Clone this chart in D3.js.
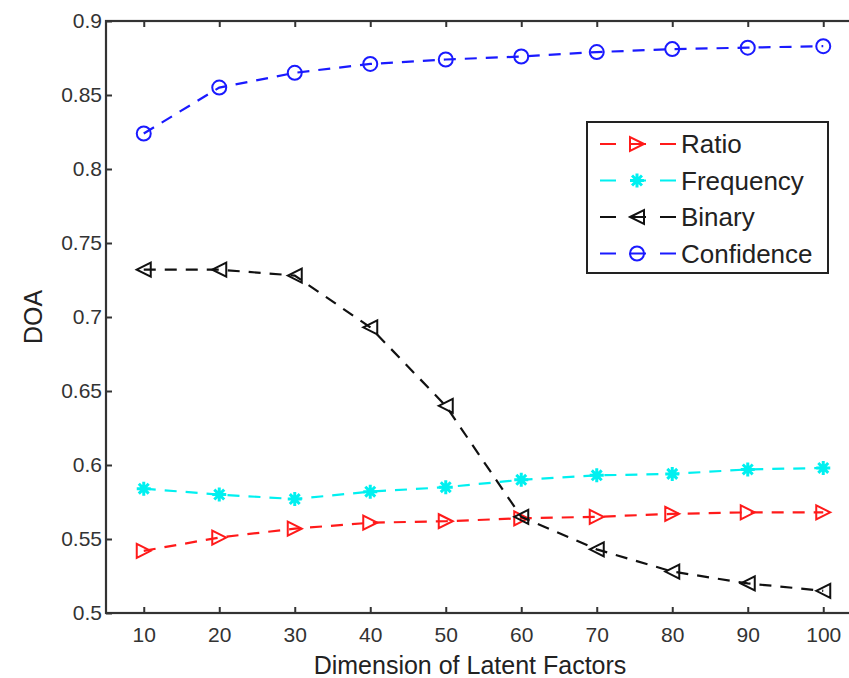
<!DOCTYPE html>
<html><head><meta charset="utf-8">
<script src="https://cdn.jsdelivr.net/npm/d3@7"></script>
<style>body{margin:0;background:#fff}svg{display:block}</style>
</head><body>
<svg id="c" width="849" height="678"></svg>
<script>
const dims = [10,20,30,40,50,60,70,80,90,100];
const ratio = [0.542,0.551,0.557,0.561,0.562,0.564,0.565,0.567,0.568,0.568];
const frequency = [0.584,0.580,0.577,0.582,0.585,0.590,0.593,0.594,0.597,0.598];
const binary = [0.732,0.732,0.728,0.693,0.640,0.565,0.543,0.528,0.520,0.515];
const confidence = [0.824,0.855,0.865,0.871,0.874,0.876,0.879,0.881,0.882,0.883];
const yTicks = [0.5,0.55,0.6,0.65,0.7,0.75,0.8,0.85,0.9];
const seriesNames = ["Ratio","Frequency","Binary","Confidence"];
const seriesColors = ["#ff1a1a","#00f0f0","#111111","#1a1aff"];
const seriesMarkers = ["triRight","star","triLeft","circle"];
const seriesData = [ratio,frequency,binary,confidence];

const svg = d3.select("#c");
const L=106, R=861, T=21, B=613;
const x = d3.scaleLinear().domain([5,105]).range([L,R]);
const y = d3.scaleLinear().domain([0.5,0.9]).range([B,T]);
const font = "Liberation Sans, Arial, sans-serif";
const axisCol = "#333";

// frame
svg.append("rect").attr("x",L).attr("y",T).attr("width",R-L).attr("height",B-T)
  .attr("fill","none").attr("stroke",axisCol).attr("stroke-width",2.2);

// axes with inward ticks
const gx = svg.append("g").attr("transform",`translate(0,${B})`)
  .call(d3.axisBottom(x).tickValues(dims).tickSize(-6).tickPadding(14).tickFormat(d3.format("d")));
const gxt = svg.append("g").attr("transform",`translate(0,${T})`)
  .call(d3.axisTop(x).tickValues(dims).tickSize(-6).tickFormat(""));
const gy = svg.append("g").attr("transform",`translate(${L},0)`)
  .call(d3.axisLeft(y).tickValues(yTicks).tickSize(-6).tickPadding(4).tickFormat(d=>d3.format("")(+d.toFixed(2))));
[gx,gxt,gy].forEach(g=>{
  g.select(".domain").remove();
  g.selectAll(".tick line").attr("stroke",axisCol).attr("stroke-width",2);
  g.selectAll("text").attr("font-family",font).attr("font-size",21).attr("fill","#333");
});

// labels
svg.append("text").attr("x",470).attr("y",674).attr("text-anchor","middle")
  .attr("font-family",font).attr("font-size",25).attr("fill","#222").text("Dimension of Latent Factors");
svg.append("text").attr("transform",`translate(42,${(T+B)/2}) rotate(-90)`).attr("text-anchor","middle")
  .attr("font-family",font).attr("font-size",25).attr("fill","#222").text("DOA");

function marker(g,type,cx,cy,col){
  const s=7;
  if(type==="circle"){
    g.append("circle").attr("cx",cx).attr("cy",cy).attr("r",s).attr("fill","none").attr("stroke",col).attr("stroke-width",2);
  } else if(type==="triRight"){
    g.append("path").attr("d",`M${cx+s},${cy} L${cx-s},${cy-s} L${cx-s},${cy+s} Z`).attr("fill","none").attr("stroke",col).attr("stroke-width",2);
  } else if(type==="triLeft"){
    g.append("path").attr("d",`M${cx-s},${cy} L${cx+s},${cy-s} L${cx+s},${cy+s} Z`).attr("fill","none").attr("stroke",col).attr("stroke-width",2);
  } else {
    const p=[];
    for(let i=0;i<4;i++){const a=i*Math.PI/4;p.push(`M${cx-s*Math.cos(a)},${cy-s*Math.sin(a)} L${cx+s*Math.cos(a)},${cy+s*Math.sin(a)}`);}
    g.append("path").attr("d",p.join(" ")).attr("fill","none").attr("stroke",col).attr("stroke-width",3);
  }
}

const line = d3.line().x((d,i)=>x(dims[i])).y(d=>y(d));
seriesData.forEach((vals,k)=>{
  const g = svg.append("g");
  g.append("path").datum(vals).attr("d",line).attr("fill","none")
    .attr("stroke",seriesColors[k]).attr("stroke-width",2.2).attr("stroke-dasharray","12,9");
  vals.forEach((v,i)=>marker(g,seriesMarkers[k],x(dims[i]),y(v),seriesColors[k]));
});

// legend
const lg = svg.append("g");
lg.append("rect").attr("x",587).attr("y",122).attr("width",241).attr("height",151)
  .attr("fill","#fff").attr("stroke","#222").attr("stroke-width",2);
seriesNames.forEach((n,k)=>{
  const yy = 144 + k*36.5;
  lg.append("line").attr("x1",600).attr("x2",676).attr("y1",yy).attr("y2",yy)
    .attr("stroke",seriesColors[k]).attr("stroke-width",2.2).attr("stroke-dasharray","16,14");
  marker(lg,seriesMarkers[k],637,yy,seriesColors[k]);
  lg.append("text").attr("x",681).attr("y",yy+9).attr("font-family",font).attr("font-size",26)
    .attr("fill","#222").text(n);
});
</script>
</body></html>
